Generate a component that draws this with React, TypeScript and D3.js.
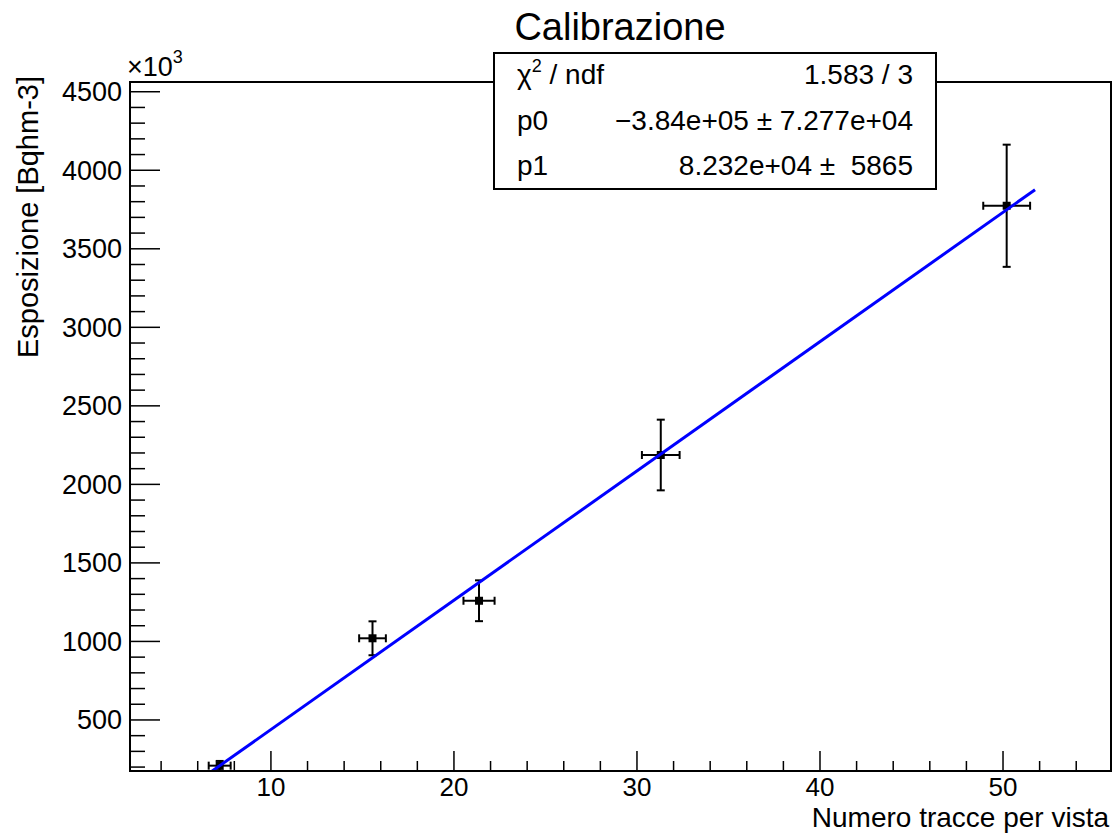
import { useEffect } from "react";
import * as d3 from "d3";

// measured points (y in units of 10^3 Bq h m-3)
const xs = [7.2, 15.55, 21.37, 31.3, 50.2];
const ys = [209, 1020, 1259, 2187, 3774];
const xErr = [0.6, 0.73, 0.85, 1.03, 1.28];
const yErr = [30, 108, 130, 225, 389];

// fit parameters: y = p0 + p1 * x
const p0 = -3.84e5;
const p1 = 8.232e4;
const fitRange = [6.5, 51.75];

const statLabels = ["χ", "p0", "p1"];
const statValues = ["1.583 / 3", "\u22123.84e+05 \u00b1 7.277e+04", "8.232e+04 \u00b1  5865"];

const xMajor = [10, 20, 30, 40, 50];
const yMajor = [500, 1000, 1500, 2000, 2500, 3000, 3500, 4000, 4500];

const W = 1115;
const H = 835;
const frame = { left: 130, right: 1111, top: 82, bottom: 771 };
const font = "'Liberation Sans', Arial, Helvetica, sans-serif";

export default function App() {
  useEffect(() => {
    document.body.style.margin = "0";
  }, []);

  const x = d3.scaleLinear().domain([2.3, 55.9]).range([frame.left, frame.right]);
  const y = d3.scaleLinear().domain([175, 4562]).range([frame.bottom, frame.top]);

  const xMinor = d3.range(4, 56, 2).filter((v) => !xMajor.includes(v));
  const yMinor = d3.range(200, 4562, 100).filter((v) => !yMajor.includes(v));

  const fitLine = d3
    .line<number>()
    .x((d) => x(d))
    .y((d) => y((p0 + p1 * d) / 1000));

  const cap = 4;

  return (
    <svg width={W} height={H} style={{ display: "block", fontFamily: font }}>
      <rect width={W} height={H} fill="#fff" />
      <defs>
        <clipPath id="frameClip">
          <rect x={frame.left} y={frame.top} width={frame.right - frame.left} height={frame.bottom - frame.top} />
        </clipPath>
      </defs>

      {/* title */}
      <text x={620} y={40} textAnchor="middle" fontSize={38} fill="#000">
        Calibrazione
      </text>

      {/* axis ticks */}
      <g stroke="#000" strokeWidth={1.5}>
        {xMajor.map((v) => (
          <line key={"xM" + v} x1={x(v)} x2={x(v)} y1={frame.bottom} y2={frame.bottom - 20} />
        ))}
        {xMinor.map((v) => (
          <line key={"xm" + v} x1={x(v)} x2={x(v)} y1={frame.bottom} y2={frame.bottom - 10} />
        ))}
        {yMajor.map((v) => (
          <line key={"yM" + v} x1={frame.left} x2={frame.left + 30} y1={y(v)} y2={y(v)} />
        ))}
        {yMinor.map((v) => (
          <line key={"ym" + v} x1={frame.left} x2={frame.left + 15} y1={y(v)} y2={y(v)} />
        ))}
      </g>

      {/* tick labels */}
      <g fontSize={27} fill="#000">
        {xMajor.map((v) => (
          <text key={"xl" + v} x={x(v)} y={796} textAnchor="middle" fontSize={26}>
            {v}
          </text>
        ))}
        {yMajor.map((v) => (
          <text key={"yl" + v} x={122} y={y(v) + 9.5} textAnchor="end">
            {v}
          </text>
        ))}
      </g>
      <text x={127} y={76} fontSize={27} fill="#000">
        ×10
        <tspan fontSize={18} dy={-13}>3</tspan>
      </text>

      {/* axis titles */}
      <text x={1109} y={827} textAnchor="end" fontSize={28} fill="#000">
        Numero tracce per vista
      </text>
      <text
        transform={`translate(38, ${frame.top - 6}) rotate(-90)`}
        textAnchor="end"
        fontSize={29}
        fill="#000"
      >
        Esposizione [Bqhm-3]
      </text>

      {/* data with error bars */}
      <g clipPath="url(#frameClip)">
        <g stroke="#000" strokeWidth={2}>
          {xs.map((xv, i) => (
            <g key={"pt" + i}>
              <line x1={x(xv - xErr[i])} x2={x(xv + xErr[i])} y1={y(ys[i])} y2={y(ys[i])} />
              <line x1={x(xv - xErr[i])} x2={x(xv - xErr[i])} y1={y(ys[i]) - cap} y2={y(ys[i]) + cap} />
              <line x1={x(xv + xErr[i])} x2={x(xv + xErr[i])} y1={y(ys[i]) - cap} y2={y(ys[i]) + cap} />
              <line x1={x(xv)} x2={x(xv)} y1={y(ys[i] - yErr[i])} y2={y(ys[i] + yErr[i])} />
              <line x1={x(xv) - cap} x2={x(xv) + cap} y1={y(ys[i] + yErr[i])} y2={y(ys[i] + yErr[i])} />
              <line x1={x(xv) - cap} x2={x(xv) + cap} y1={y(ys[i] - yErr[i])} y2={y(ys[i] - yErr[i])} />
            </g>
          ))}
        </g>
        {xs.map((xv, i) => (
          <rect key={"mk" + i} x={x(xv) - 4} y={y(ys[i]) - 4} width={8} height={8} fill="#000" />
        ))}
        <path d={fitLine(fitRange) ?? ""} stroke="#0000ff" strokeWidth={3} fill="none" />
      </g>

      {/* frame */}
      <rect
        x={frame.left}
        y={frame.top}
        width={frame.right - frame.left}
        height={frame.bottom - frame.top}
        fill="none"
        stroke="#000"
        strokeWidth={2}
      />

      {/* stats box */}
      <rect x={494} y={53} width={442} height={136} fill="#fff" stroke="#000" strokeWidth={2} />
      <g fontSize={28} fill="#000">
        <text x={517} y={84}>
          {statLabels[0]}
          <tspan fontSize={18} dy={-12}>2</tspan>
          <tspan dy={12}> / ndf</tspan>
        </text>
        <text x={517} y={130}>{statLabels[1]}</text>
        <text x={517} y={175}>{statLabels[2]}</text>
        {statValues.map((s, i) => (
          <text key={"sv" + i} x={913} y={84 + i * 45.5} textAnchor="end" style={{ whiteSpace: "pre" }}>
            {s}
          </text>
        ))}
      </g>
    </svg>
  );
}
